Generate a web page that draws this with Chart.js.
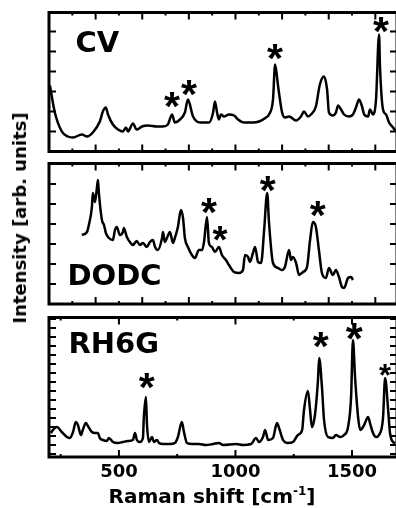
<!DOCTYPE html>
<html>
<head>
<meta charset="utf-8">
<script src="https://cdn.jsdelivr.net/npm/chart.js@4/dist/chart.umd.min.js"></script>
<style>
html, body { margin: 0; padding: 0; background: #fff; }
#wrap { position: relative; width: 396px; height: 508px; overflow: hidden; }
#wrap canvas { position: absolute; left: 0; top: 0; }
.title { position: absolute; font: bold 18px "DejaVu Sans"; line-height: 1; white-space: nowrap; color: #000; }
#ytitle { left: 20px; top: 218px; transform: translate(-50%, -50%) rotate(-90deg); }
#xtitle { left: 212px; top: 496px; font-size: 20px; transform: translate(-50%, -50%); }
#xtitle sup { font-size: 12px; vertical-align: 8px; line-height: 0; }
</style>
</head>
<body>
<div id="wrap">
  <canvas id="cv" width="400" height="508"></canvas>
  <canvas id="dodc" width="400" height="508"></canvas>
  <canvas id="rh6g" width="400" height="508"></canvas>
  <div class="title" id="ytitle">Intensity [arb. units]</div>
  <div class="title" id="xtitle">Raman shift [cm<sup>-1</sup>]</div>
</div>
<script>
// Raman shift (cm-1) and intensity (arb. units)
const cvShift = [204, 225, 255, 281, 303, 341, 363, 388, 418, 431, 444, 453, 474, 496, 517, 530, 539, 560, 576, 599,
  624, 663, 689, 710, 728, 740, 762, 783, 796, 818, 848, 861, 887, 904, 912, 921, 929, 938, 951, 972,
  994, 1011, 1037, 1075, 1101, 1131, 1144, 1161, 1170, 1183, 1200, 1212, 1230, 1260, 1281, 1294, 1311, 1324, 1345, 1362,
  1380, 1393, 1401, 1418, 1431, 1440, 1453, 1466, 1487, 1504, 1517, 1530, 1543, 1552, 1569, 1577, 1590, 1603, 1616, 1620,
  1633, 1646, 1659, 1676, 1685];
const cvInt = [66, 39, 20, 15, 14, 17, 15, 19, 30, 40, 44, 37, 27, 22, 20, 24, 20, 28, 22, 25,
  26, 25, 25, 27, 37, 29, 32, 39, 52, 35, 29, 29, 29, 39, 50, 39, 32, 37, 35, 37,
  36, 32, 29, 29, 30, 34, 37, 52, 87, 65, 39, 34, 35, 31, 35, 40, 35, 37, 45, 67,
  75, 62, 39, 36, 39, 46, 42, 37, 35, 37, 44, 52, 45, 37, 35, 42, 37, 52, 117, 85,
  42, 37, 29, 24, 21];

const dodcShift = [341, 363, 371, 384, 388, 397, 406, 410, 414, 427, 436, 444, 457, 474, 483, 491, 504, 517, 521, 534,
  547, 560, 576, 590, 603, 620, 633, 646, 655, 667, 685, 689, 697, 706, 719, 732, 740, 753, 766, 775,
  783, 796, 813, 826, 843, 857, 865, 878, 886, 899, 912, 929, 942, 959, 972, 994, 1015, 1032, 1041, 1054,
  1062, 1075, 1084, 1097, 1110, 1123, 1136, 1144, 1161, 1183, 1200, 1212, 1230, 1238, 1247, 1260, 1273, 1290, 1307, 1320,
  1332, 1345, 1358, 1371, 1388, 1401, 1418, 1431, 1444, 1457, 1466, 1483, 1496, 1504];
const dodcInt = [69, 72, 79, 97, 111, 102, 117, 124, 111, 84, 79, 71, 66, 64, 74, 77, 69, 72, 76, 67,
  62, 59, 63, 59, 61, 57, 62, 64, 57, 54, 66, 72, 62, 66, 72, 61, 66, 77, 94, 86,
  66, 57, 49, 46, 54, 54, 62, 87, 61, 57, 52, 57, 49, 44, 39, 32, 31, 34, 49, 47,
  42, 51, 57, 42, 41, 74, 111, 81, 41, 36, 34, 37, 54, 44, 47, 41, 29, 32, 37, 64,
  82, 77, 54, 31, 26, 36, 29, 34, 27, 17, 16, 26, 27, 24];

const rhShift = [208, 217, 234, 255, 277, 290, 303, 315, 324, 337, 345, 358, 367, 384, 397, 410, 418, 431, 448, 457,
  474, 496, 517, 539, 560, 569, 577, 590, 603, 607, 616, 620, 629, 642, 650, 663, 672, 689, 719, 740,
  753, 770, 779, 792, 813, 843, 873, 904, 929, 947, 1003, 1032, 1067, 1088, 1101, 1118, 1127, 1140, 1161, 1178,
  1187, 1204, 1225, 1247, 1268, 1286, 1294, 1311, 1320, 1328, 1341, 1354, 1359, 1371, 1380, 1397, 1418, 1431, 1449, 1466,
  1483, 1496, 1504, 1513, 1526, 1535, 1552, 1569, 1577, 1590, 1603, 1616, 1633, 1642, 1655, 1663, 1676, 1685];
const rhInt = [23, 26, 29, 24, 19, 18, 24, 34, 31, 21, 26, 33, 30, 24, 23, 23, 18, 16, 15, 18,
  14, 13, 14, 15, 16, 23, 16, 14, 18, 39, 59, 33, 14, 19, 14, 16, 13, 12, 12, 13,
  19, 34, 24, 13, 12, 12, 11, 12, 13, 11, 12, 11, 12, 18, 14, 19, 26, 16, 18, 33,
  28, 16, 13, 14, 21, 26, 46, 65, 46, 29, 41, 76, 98, 69, 36, 19, 18, 21, 19, 21,
  29, 59, 116, 79, 39, 26, 31, 39, 33, 23, 19, 21, 38, 78, 46, 23, 14, 13];

// asterisks over the marked bands
const cvStarShift = [728, 801, 1170, 1624];
const cvStarInt = [51.5, 63.5, 99.5, 126.5];
const dodcStarShift = [886, 934, 1138, 1353];
const dodcStarInt = [98, 71, 120.5, 95];
const rhStarShift = [619, 1366, 1510, 1641];
const rhStarInt = [75.5, 116, 124.5, 86];

// x tick labels and tick mark positions
const xTickLabels = [500, 1000, 1500];
const xMajorTop = [400, 600, 800, 1000, 1200, 1400, 1600];
const xMinorTop = [300, 500, 700, 900, 1100, 1300, 1500];
const xMajorBottom = [500, 1000, 1500];
const xMinorBottom = [250, 750, 1250];
const cvYTicks = [20, 40, 60, 80, 100, 120];
const dodcYTicks = [20, 40, 60, 80, 100, 120];
const rhYTicks = [2, 11, 20, 29, 38, 47, 56, 65, 74, 83, 92, 101, 110, 119, 128, 137];

// frame, inside ticks, panel name and asterisks
function makeDeco(o) {
  return {
    id: 'deco',
    afterDatasetsDraw(chart) {
      const ctx = chart.ctx;
      const a = chart.chartArea;
      const x = chart.scales.x;
      const y = chart.scales.y;
      ctx.save();
      ctx.strokeStyle = '#000';
      ctx.lineWidth = 2;
      ctx.beginPath();
      const tick = (vals, len) => vals.forEach(v => {
        const px = x.getPixelForValue(v);
        ctx.moveTo(px, a.top); ctx.lineTo(px, a.top + len);
        ctx.moveTo(px, a.bottom); ctx.lineTo(px, a.bottom - len);
      });
      tick(o.xMajor, 7);
      tick(o.xMinor, 3);
      o.yTicks.forEach(v => {
        const py = y.getPixelForValue(v);
        ctx.moveTo(a.left, py); ctx.lineTo(a.left + 7, py);
        ctx.moveTo(a.right, py); ctx.lineTo(a.right - 7, py);
      });
      ctx.stroke();
      ctx.lineWidth = 3;
      ctx.strokeRect(a.left, a.top, a.right - a.left, a.bottom - a.top);

      ctx.fillStyle = '#000';
      ctx.font = 'bold 29px "DejaVu Sans"';
      ctx.textAlign = 'left';
      ctx.textBaseline = 'alphabetic';
      ctx.fillText(o.name, a.left + o.nameDx, a.top + o.nameDy);

      ctx.textAlign = 'center';
      o.starX.forEach((v, i) => {
        ctx.font = 'bold 100px "Liberation Sans"';
        let m = ctx.measureText('*');
        const size = 100 * o.starW[i] / (m.actualBoundingBoxLeft + m.actualBoundingBoxRight);
        ctx.font = 'bold ' + size.toFixed(1) + 'px "Liberation Sans"';
        m = ctx.measureText('*');
        const px = x.getPixelForValue(v);
        const py = y.getPixelForValue(o.starY[i]);
        ctx.fillText('*', px, py + (m.actualBoundingBoxAscent - m.actualBoundingBoxDescent) / 2);
      });
      ctx.restore();
    }
  };
}

function makePanel(id, shift, intensity, yMin, yMax, pad, deco, bottomAxis) {
  return new Chart(document.getElementById(id), {
    type: 'line',
    data: {
      datasets: [{
        data: shift.map((s, i) => ({ x: s, y: intensity[i] })),
        borderColor: '#000',
        borderWidth: 2.5,
        pointRadius: 0,
        fill: false,
        cubicInterpolationMode: 'monotone'
      }]
    },
    options: {
      responsive: false,
      animation: false,
      devicePixelRatio: 1,
      layout: { padding: pad },
      plugins: { legend: { display: false }, tooltip: { enabled: false } },
      scales: {
        x: {
          type: 'linear', min: 200, max: 1693,
          display: bottomAxis,
          grid: { display: false, drawTicks: false },
          border: { display: false },
          ticks: {
            color: '#000', padding: 5, maxRotation: 0, autoSkip: false,
            font: { family: 'DejaVu Sans', weight: 'bold', size: 18 },
            callback: v => String(v)
          },
          afterBuildTicks: axis => { axis.ticks = xTickLabels.map(v => ({ value: v })); }
        },
        y: { display: false, min: yMin, max: yMax }
      }
    },
    plugins: [makeDeco(deco)]
  });
}

makePanel('cv', cvShift, cvInt, 0, 139,
  { left: 49, right: 3, top: 12.5, bottom: 356.5 },
  { name: 'CV', nameDx: 26.5, nameDy: 39.5, xMajor: xMajorTop, xMinor: xMinorTop, yTicks: cvYTicks,
    starX: cvStarShift, starY: cvStarInt, starW: [16, 16, 16, 16] }, false);

makePanel('dodc', dodcShift, dodcInt, 0, 140.5,
  { left: 49, right: 3, top: 163.5, bottom: 204 },
  { name: 'DODC', nameDx: 18.5, nameDy: 121.5, xMajor: xMajorTop, xMinor: xMinorTop, yTicks: dodcYTicks,
    starX: dodcStarShift, starY: dodcStarInt, starW: [16, 15, 16, 16] }, false);

makePanel('rh6g', rhShift, rhInt, -1, 138.5,
  { left: 49, right: 3, top: 317.5, bottom: 19.4 },
  { name: 'RH6G', nameDx: 19.5, nameDy: 35.5, xMajor: xMajorBottom, xMinor: xMinorBottom, yTicks: rhYTicks,
    starX: rhStarShift, starY: rhStarInt, starW: [16, 16, 17, 12] }, true);
</script>
</body>
</html>
